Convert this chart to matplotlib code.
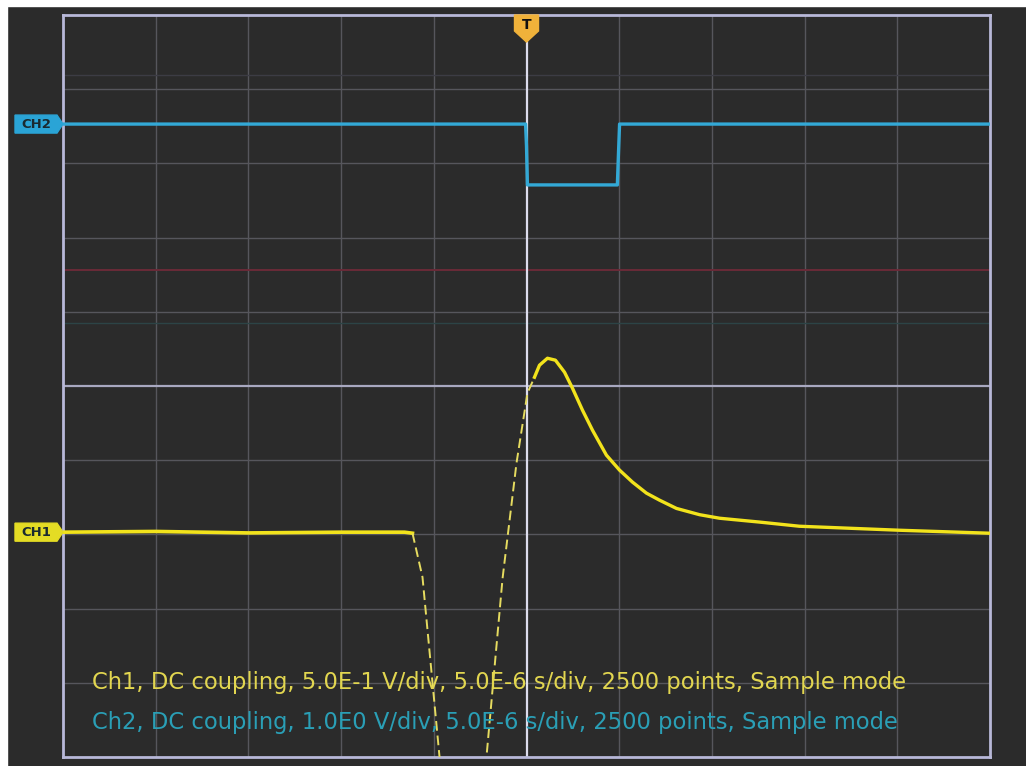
import matplotlib.pyplot as plt
from matplotlib.patches import Polygon, Rectangle

# time base (us) and channel settings
t_per_div = 5.0
ch1_v_per_div = 0.5
ch2_v_per_div = 1.0
ch1_pos = -1.97   # divisions from centre
ch2_pos = 3.53

# CH1 trace (time in us, volts)
ch1_flat_t = [-25.0, -20.0, -15.0, -10.0, -7.0, -6.58, -6.15]
ch1_flat_v = [0.0, 0.005, -0.005, 0.0, 0.0, 0.0, -0.007]
ch1_edge_t = [-6.15, -5.61, -4.69, -4.0, -3.42, -2.8, -2.16, -1.29, -0.54, 0.05, 0.43]
ch1_edge_v = [-0.007, -0.303, -1.516, -2.2, -2.5, -2.2, -1.516, -0.31, 0.465, 0.937, 1.044]
ch1_tail_t = [0.43, 0.70, 1.13, 1.56, 2.05, 2.48, 3.02, 3.56, 4.31, 5.02, 5.72, 6.47,
              7.17, 8.09, 9.33, 10.41, 12.57, 14.72, 20.12, 24.97]
ch1_tail_v = [1.044, 1.125, 1.172, 1.159, 1.078, 0.970, 0.822, 0.687, 0.519, 0.418, 0.337,
              0.263, 0.216, 0.160, 0.118, 0.094, 0.068, 0.040, 0.013, -0.007]

# CH2 trace (time in us, volts)
ch2_t = [-25.0, -0.05, 0.0, 0.05, 4.9, 4.96, 5.02, 25.0]
ch2_v = [0.0, 0.0, -0.3, -0.82, -0.82, -0.4, 0.0, 0.0]

ch1_label = "Ch1, DC coupling, 5.0E-1 V/div, 5.0E-6 s/div, 2500 points, Sample mode"
ch2_label = "Ch2, DC coupling, 1.0E0 V/div, 5.0E-6 s/div, 2500 points, Sample mode"

bg = "#2b2b2b"
ch1_col = "#f2e31c"
ch2_col = "#33a9d6"

fig = plt.figure(figsize=(10.26, 7.66), dpi=100, facecolor=bg)
ax = fig.add_axes([63 / 1026, 1 - 757 / 766, 927 / 1026, 742 / 766])
ax.set_facecolor(bg)
ax.set_xlim(-25, 25)
ax.set_ylim(-5, 5)
ax.set_xticks([])
ax.set_yticks([])

# graticule
for k in range(-4, 5):
    if k != 0:
        ax.axvline(k * t_per_div, color="#56565c", lw=1)
        ax.axhline(k, color="#56565c", lw=1)
ax.axhline(0, color="#a8a8c0", lw=1.6)
ax.axhline(1.56, color="#6a2a38", lw=1.4)
ax.axhline(0.85, color="#2c4446", lw=1.0)
ax.axhline(4.19, color="#3c3c44", lw=1.0)
ax.axvline(0, color="#dcdcec", lw=1.6)
for s in ax.spines.values():
    s.set_color("#b8b8d8")
    s.set_linewidth(2)


def to_div(v, vdiv, pos):
    return [x / vdiv + pos for x in v]


ax.plot(ch2_t, to_div(ch2_v, ch2_v_per_div, ch2_pos), color=ch2_col, lw=2.4, zorder=3)
ax.plot(ch1_flat_t, to_div(ch1_flat_v, ch1_v_per_div, ch1_pos), color=ch1_col, lw=2.6, zorder=3)
ax.plot(ch1_edge_t, to_div(ch1_edge_v, ch1_v_per_div, ch1_pos), color="#e6dc60", lw=1.4,
        ls=(0, (5, 2.5)), zorder=3)
ax.plot(ch1_tail_t, to_div(ch1_tail_v, ch1_v_per_div, ch1_pos), color=ch1_col, lw=2.4, zorder=3)

# channel tags on the left edge
px_t = t_per_div / 92.7
px_d = 1 / 74.2


def tag(y_div, color, text):
    x0 = -25 - 48 * px_t
    x1 = -25 - 6 * px_t
    h = 9 * px_d
    pts = [(x0, y_div - h), (x1, y_div - h), (-25, y_div), (x1, y_div + h), (x0, y_div + h)]
    ax.add_patch(Polygon(pts, closed=True, color=color, clip_on=False, zorder=5))
    ax.text((x0 + x1) / 2, y_div, text, color="#1a2a30", fontsize=9.5, fontweight="bold",
            ha="center", va="center", clip_on=False, zorder=6)


tag(ch2_pos, "#2aa4d6", "CH2")
tag(ch1_pos, "#e4dc24", "CH1")

# trigger marker
w = 12 * px_t
pts = [(-w, 5.0), (w, 5.0), (w, 5.0 - 16 * px_d), (0, 5.0 - 27 * px_d), (-w, 5.0 - 16 * px_d)]
ax.add_patch(Polygon(pts, closed=True, color="#f0b23a", clip_on=False, zorder=6))
ax.text(0, 5.0 - 10 * px_d, "T", color="#111111", fontsize=10, fontweight="bold",
        ha="center", va="center", zorder=7)

ax.text(-25 + 29 * px_t, 5 - (683 - 15) * px_d, ch1_label, color="#e2d650", fontsize=16.3,
        family="DejaVu Sans", va="center", ha="left", zorder=4)
ax.text(-25 + 29 * px_t, 5 - (722 - 15) * px_d, ch2_label, color="#2a9fb6", fontsize=16.3,
        family="DejaVu Sans", va="center", ha="left", zorder=4)

# white scan border at top and left
fig.patches.append(Rectangle((0, 1 - 6 / 766), 1, 6 / 766, transform=fig.transFigure,
                             color="white", zorder=10))
fig.patches.append(Rectangle((0, 0), 7 / 1026, 1, transform=fig.transFigure,
                             color="white", zorder=10))

fig.savefig("out.png", dpi=100, facecolor=bg)
